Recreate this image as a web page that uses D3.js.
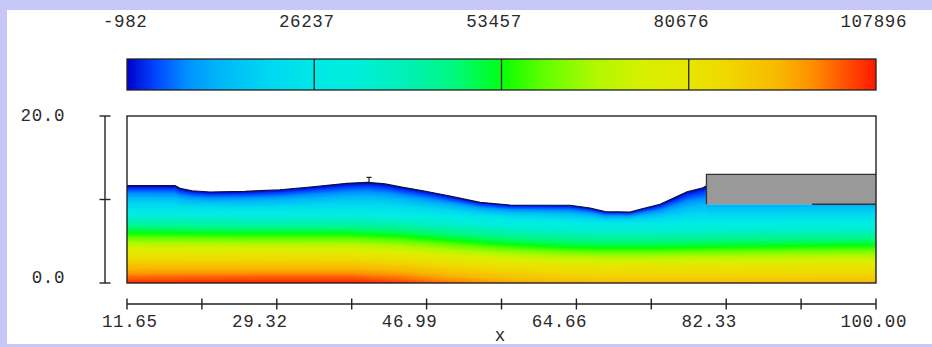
<!DOCTYPE html>
<html>
<head>
<meta charset="utf-8">
<script src="https://cdn.jsdelivr.net/npm/d3@7"></script>
<style>
  html, body { margin: 0; padding: 0; background: #c8c8f8; }
  svg { display: block; }
  text { font-family: "Liberation Mono", "DejaVu Sans Mono", monospace; fill: #2a2a2a; }
</style>
</head>
<body>
<svg id="chart" width="932" height="347"></svg>
<script>
// ---- colour bar: pressure levels and colour map ----
const barTicks = [-982, 26237, 53457, 80676, 107896];
const colorFrac = [0.000, 0.035, 0.080, 0.125, 0.190, 0.250, 0.300, 0.370, 0.435, 0.494,
                   0.505, 0.556, 0.625, 0.690, 0.750, 0.800, 0.870, 0.914, 0.960, 1.000];
const colorHex  = ["#0000c8", "#0040ff", "#0090ff", "#00b8f8", "#00d8f0", "#00e8e8", "#00eedd",
                   "#00f0b8", "#00f880", "#00ff20", "#10ff00", "#60ff00", "#b0f800", "#d8f000",
                   "#e6e600", "#f0d800", "#f8b800", "#ff9000", "#ff5000", "#ff1800"];

// ---- axes ----
const xTicks = [11.65, 20.485, 29.32, 38.155, 46.99, 55.825, 64.66, 73.495, 82.33, 91.165, 100];
const xTickLabels = ["11.65", "", "29.32", "", "46.99", "", "64.66", "", "82.33", "", "100.00"];
const yTicks = [0, 10, 20];
const yTickLabels = ["0.0", "", "20.0"];

// ---- free surface elevation ----
const surfX = [11.65, 17.31, 17.90, 19.32, 21.44, 25.57, 29.70, 33.59, 37.60, 40.08, 42.08,
               44.21, 46.56, 49.76, 53.29, 56.83, 63.91, 66.27, 68.04, 71.00, 72.18, 74.53,
               76.07, 77.72, 79.60, 80.00];
const surfY = [11.65, 11.65, 11.34, 11.05, 10.90, 10.98, 11.17, 11.53, 11.94, 12.06, 11.86,
               11.46, 11.05, 10.42, 9.66, 9.34, 9.31, 8.98, 8.54, 8.50, 8.83, 9.43,
               10.14, 10.93, 11.41, 11.65];
const markerX = [40.2];

// ---- structure on the right ----
const structX = [80.0, 100];
const structY = [9.43, 13.02];
const structSealX = 92.46;

// ---- pressure field: heights of the 26237 / 53457 / 80676 levels, bed and top pressure ----
const fieldX  = [11.65, 26.16, 37.96, 43.86, 49.76, 55.65, 61.55, 67.45, 73.35, 79.95, 80.05, 91.0, 100];
const cyanY   = [8.74, 8.56, 8.62, 8.50, 8.08, 7.66, 7.43, 7.19, 7.19, 7.31, 7.31, 7.43, 7.43];
const greenY  = [5.99, 5.87, 5.87, 5.63, 5.15, 4.67, 4.37, 4.19, 4.19, 4.31, 4.31, 4.43, 4.49];
const yellowY = [3.55, 3.50, 3.45, 3.20, 2.75, 2.40, 2.15, 2.05, 2.05, 2.05, 2.05, 2.10, 2.10];
const bedP    = [106500, 107600, 107896, 105500, 101000, 97000, 94000, 92500, 92000, 92000, 92000, 92500, 93000];
const topP    = [-982, -982, -982, -982, -982, -982, -982, -982, -982, -982, 11000, 11000, 11000];

// ---------------------------------------------------------------------------------
const svg = d3.select("#chart");
const ink = "#222";

svg.append("rect").attr("width", 932).attr("height", 347).attr("fill", "#c8c8f8");
svg.append("rect").attr("x", 7).attr("y", 10).attr("width", 925).attr("height", 334).attr("fill", "#ffffff");

const plotL = 127, plotR = 876, plotT = 116, plotB = 283;
const x = d3.scaleLinear().domain([11.65, 100]).range([plotL, plotR]);
const y = d3.scaleLinear().domain([0, 20]).range([plotB, plotT]);

const pMin = barTicks[0], pMax = barTicks[barTicks.length - 1];
const color = d3.scaleLinear()
  .domain(colorFrac.map(f => pMin + f * (pMax - pMin)))
  .range(colorHex)
  .interpolate(d3.interpolateRgb)
  .clamp(true);

// ---- colour bar ----
const bar = d3.scaleLinear().domain([pMin, pMax]).range([plotL, plotR]);
const defs = svg.append("defs");
const grad = defs.append("linearGradient").attr("id", "barGrad")
  .attr("x1", "0%").attr("x2", "100%").attr("y1", "0%").attr("y2", "0%");
d3.range(0, 1.0001, 0.01).forEach(t => {
  grad.append("stop").attr("offset", (t * 100) + "%").attr("stop-color", color(pMin + t * (pMax - pMin)));
});
const barTop = 59, barH = 31;
svg.append("rect").attr("x", plotL).attr("y", barTop).attr("width", plotR - plotL).attr("height", barH)
  .attr("fill", "url(#barGrad)").attr("stroke", ink).attr("stroke-width", 1.3);
svg.selectAll("line.sep").data(barTicks.slice(1, -1)).join("line").attr("class", "sep")
  .attr("x1", d => bar(d)).attr("x2", d => bar(d)).attr("y1", barTop).attr("y2", barTop + barH)
  .attr("stroke", ink).attr("stroke-width", 1.3);

function placeLabels(sel, scale, vals, labels, yPos, firstDx, lastDx, midDx) {
  const n = vals.length;
  sel.selectAll(null).data(vals.map((v, i) => ({ v, i, t: labels[i] })).filter(d => d.t !== ""))
    .join("text")
    .attr("x", d => scale(d.v) + (d.i === 0 ? firstDx : d.i === n - 1 ? lastDx : midDx))
    .attr("y", yPos)
    .attr("text-anchor", d => d.i === 0 ? "start" : d.i === n - 1 ? "end" : "middle")
    .attr("font-size", 17.5).attr("letter-spacing", 0.6)
    .text(d => d.t);
}
placeLabels(svg.append("g"), bar, barTicks, barTicks.map(String), 27, -24, 31, -7.5);

// ---- pressure field ----
const W = plotR - plotL, H = plotB - plotT;
const canvas = document.createElement("canvas");
canvas.width = W; canvas.height = H;
const ctx = canvas.getContext("2d");
const img = ctx.createImageData(W, H);
const along = arr => d3.scaleLinear().domain(fieldX).range(arr).clamp(true);
const cAt = along(cyanY), gAt = along(greenY), yAt = along(yellowY), bAt = along(bedP), tAt = along(topP);
const etaAt = d3.scaleLinear().domain(surfX.concat([80.01, 100])).range(surfY.concat([structY[0], structY[0]])).clamp(true);
const L1 = barTicks[1], L2 = barTicks[2], L3 = barTicks[3];
for (let i = 0; i < W; i++) {
  const xv = x.invert(plotL + i + 0.5);
  const eta = etaAt(xv), c = cAt(xv), g = gAt(xv), yl = yAt(xv), pb = bAt(xv), pt = tAt(xv);
  for (let j = 0; j < H; j++) {
    const yv = Math.min(y.invert(plotT + j + 0.5), eta);
    let p;
    if (yv >= c) p = pt + (L1 - pt) * (eta - yv) / (eta - c);
    else if (yv >= g) p = L1 + (L2 - L1) * (c - yv) / (c - g);
    else if (yv >= yl) p = L2 + (L3 - L2) * (g - yv) / (g - yl);
    else p = L3 + (pb - L3) * (yl - yv) / yl;
    const col = d3.rgb(color(p));
    const k = (j * W + i) * 4;
    img.data[k] = col.r; img.data[k + 1] = col.g; img.data[k + 2] = col.b; img.data[k + 3] = 255;
  }
}
ctx.putImageData(img, 0, 0);

const water = surfX.map((d, i) => [d, surfY[i]])
  .concat([[structX[0], structY[0]], [structX[1], structY[0]], [structX[1], 0], [surfX[0], 0]]);
defs.append("clipPath").attr("id", "waterClip").append("path")
  .attr("d", d3.line().x(d => x(d[0])).y(d => y(d[1]))(water) + "Z");

svg.append("image").attr("href", canvas.toDataURL())
  .attr("x", plotL).attr("y", plotT).attr("width", W).attr("height", H)
  .attr("preserveAspectRatio", "none")
  .attr("clip-path", "url(#waterClip)");

// free surface outline
svg.append("path")
  .attr("d", d3.line().x(d => x(d[0])).y(d => y(d[1]))(surfX.map((d, i) => [d, surfY[i]])))
  .attr("fill", "none").attr("stroke", "#10103a").attr("stroke-width", 1.2);

// small marker at the crest
const crest = d3.scaleLinear().domain(surfX).range(surfY);
markerX.forEach(mx => {
  const px = x(mx), py = y(crest(mx));
  svg.append("path")
    .attr("d", `M${px - 2.5},${py - 5}H${px + 2.5}M${px},${py - 5}V${py}`)
    .attr("stroke", "#222").attr("stroke-width", 1.2).attr("fill", "none");
});

// structure
svg.append("rect")
  .attr("x", x(structX[0])).attr("y", y(structY[1]))
  .attr("width", x(structX[1]) - x(structX[0])).attr("height", y(structY[0]) - y(structY[1]))
  .attr("fill", "#999999");
svg.append("path")
  .attr("d", `M${x(structX[0])},${y(structY[0])}V${y(structY[1])}H${x(structX[1])}` +
             `M${x(structSealX)},${y(structY[0])}H${x(structX[1])}`)
  .attr("fill", "none").attr("stroke", "#333").attr("stroke-width", 1.3);

// plot frame
svg.append("rect").attr("x", plotL).attr("y", plotT).attr("width", W).attr("height", H)
  .attr("fill", "none").attr("stroke", ink).attr("stroke-width", 1.4);

// ---- y axis ----
const yAxisX = 105;
svg.append("line").attr("x1", yAxisX).attr("x2", yAxisX).attr("y1", y(0)).attr("y2", y(20))
  .attr("stroke", ink).attr("stroke-width", 1.4);
svg.selectAll("line.yt").data(yTicks).join("line").attr("class", "yt")
  .attr("x1", yAxisX - 5.5).attr("x2", yAxisX + 5.5).attr("y1", d => y(d)).attr("y2", d => y(d))
  .attr("stroke", ink).attr("stroke-width", 1.4);
svg.selectAll("text.yl").data(yTicks.map((v, i) => ({ v, t: yTickLabels[i] })).filter(d => d.t !== ""))
  .join("text").attr("class", "yl")
  .attr("x", 65).attr("y", d => y(d.v) + (d.v === 0 ? 0 : 4.5))
  .attr("text-anchor", "end").attr("font-size", 17.5).attr("letter-spacing", 0.6)
  .text(d => d.t);

// ---- x axis ----
const xAxisY = 304;
svg.append("line").attr("x1", x(11.65)).attr("x2", x(100)).attr("y1", xAxisY).attr("y2", xAxisY)
  .attr("stroke", ink).attr("stroke-width", 1.4);
svg.selectAll("line.xt").data(xTicks).join("line").attr("class", "xt")
  .attr("x1", d => x(d)).attr("x2", d => x(d)).attr("y1", xAxisY - 5.5).attr("y2", xAxisY + 5.5)
  .attr("stroke", ink).attr("stroke-width", 1.4);
placeLabels(svg.append("g"), x, xTicks, xTickLabels, 327, -25, 31, -17);
svg.append("text").attr("x", 500).attr("y", 341).attr("text-anchor", "middle")
  .attr("font-size", 17.5).text("x");
</script>
</body>
</html>
